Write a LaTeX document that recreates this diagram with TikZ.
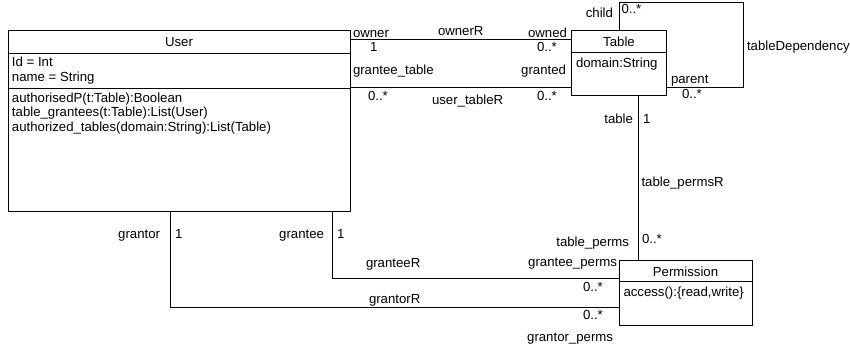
\documentclass[tikz,border=0pt]{standalone}
\usepackage{fontspec}
\setmainfont{Liberation Sans}
\begin{document}
\begin{tikzpicture}[x=1pt,y=-1pt,
  every node/.style={font=\fontsize{13.2}{15}\selectfont, inner sep=0pt, outer sep=0pt},
  classbox/.style={draw, line width=0.9pt, anchor=north west, minimum width=#1},
  conn/.style={draw, line width=0.9pt},
  lbl/.style={anchor=base west},
  lblr/.style={anchor=base east},
  lblc/.style={anchor=base}]
\useasboundingbox (0,0) rectangle (850,350);
% classes
\node[classbox=342pt, minimum height=181pt] (user) at (8,30) {};
\node[classbox=94.5pt, minimum height=65pt] (table) at (571.5,30.5) {};
\node[classbox=133pt, minimum height=65pt] (perm) at (619,260) {};
% compartments
\coordinate (us1) at (8,53);
\coordinate (us2) at (8,88.5);
\draw[line width=0.9pt] (us1) -- (us1 -| user.east);
\draw[line width=0.9pt] (us2) -- (us2 -| user.east);
\coordinate (ts1) at (571.5,52);
\draw[line width=0.9pt] (ts1) -- (ts1 -| table.east);
\coordinate (ps1) at (619,281);
\draw[line width=0.9pt] (ps1) -- (ps1 -| perm.east);
% class texts
\node[lblc] (userT) at (179,46.5) {User};
\node[lbl] (userA1) at (12,67) {Id = Int};
\node[lbl] (userA2) at (12,82) {name = String};
\node[lbl] (userM1) at (12,102.3) {authorisedP(t:Table):Boolean};
\node[lbl] (userM2) at (12,116.8) {table\_grantees(t:Table):List(User)};
\node[lbl] (userM3) at (12,131.3) {authorized\_tables(domain:String):List(Table)};
\node[lblc] (tableT) at (619,46.5) {Table};
\node[lbl] (tableA1) at (576,67.5) {domain:String};
\node[lblc] (permT) at (685.5,276) {Permission};
\node[lbl] (permM1) at (623.5,296) {access():\{read,write\}};
% connectors
\coordinate (oy) at (0,39);
\draw[conn] (user.east |- oy) -- (table.west |- oy);
\coordinate (uy) at (0,87);
\draw[conn] (user.east |- uy) -- (table.west |- uy);
\coordinate (lp1) at (619.5,2);
\coordinate (lp2) at (743,2);
\coordinate (lp3) at (743,87);
\draw[conn] (lp1 |- table.north) -- (lp1) -- (lp2) -- (lp3) -- (table.east |- lp3);
\coordinate (tp) at (638.5,0);
\draw[conn] (tp |- table.south) -- (tp |- perm.north);
\coordinate (ge) at (332,278);
\draw[conn] (ge |- user.south) -- (ge) -- (perm.west |- ge);
\coordinate (gr) at (170.5,307);
\draw[conn] (gr |- user.south) -- (gr) -- (perm.west |- gr);
% labels
\node[lbl] (l1) at (353,38) {owner};
\node[lbl] (l2) at (370,52) {1};
\node[lbl] (l3) at (438,35.5) {ownerR};
\node[lblr] (l4) at (567,38) {owned};
\node[lbl] (l5) at (537,52) {0..*};
\node[lbl] (l6) at (353,75) {grantee\_table};
\node[lblr] (l7) at (566,75) {granted};
\node[lbl] (l8) at (368,100.5) {0..*};
\node[lbl] (l9) at (432,104) {user\_tableR};
\node[lbl] (l10) at (537,100.5) {0..*};
\node[lblr] (l11) at (613,17.5) {child};
\node[lbl] (l12) at (621.5,13.5) {0..*};
\node[lbl] (l13) at (747,51) {tableDependency};
\node[lbl] (l14) at (671,83.5) {parent};
\node[lbl] (l15) at (682,98.5) {0..*};
\node[lblr] (l16) at (633,123.5) {table};
\node[lbl] (l17) at (643,123.5) {1};
\node[lbl] (l18) at (641.5,186) {table\_permsR};
\node[lblr] (l19) at (629,246.5) {table\_perms};
\node[lbl] (l20) at (642,243.5) {0..*};
\node[lblr] (l21) at (617,266) {grantee\_perms};
\node[lbl] (l22) at (583,291.5) {0..*};
\node[lbl] (l23) at (583,319) {0..*};
\node[lblr] (l24) at (613,341) {grantor\_perms};
\node[lblr] (l25) at (160,238) {grantor};
\node[lbl] (l26) at (175,238) {1};
\node[lblr] (l27) at (324,238) {grantee};
\node[lbl] (l28) at (337,238) {1};
\node[lbl] (l29) at (366,267) {granteeR};
\node[lbl] (l30) at (369,303.5) {grantorR};
\end{tikzpicture}
\end{document}
